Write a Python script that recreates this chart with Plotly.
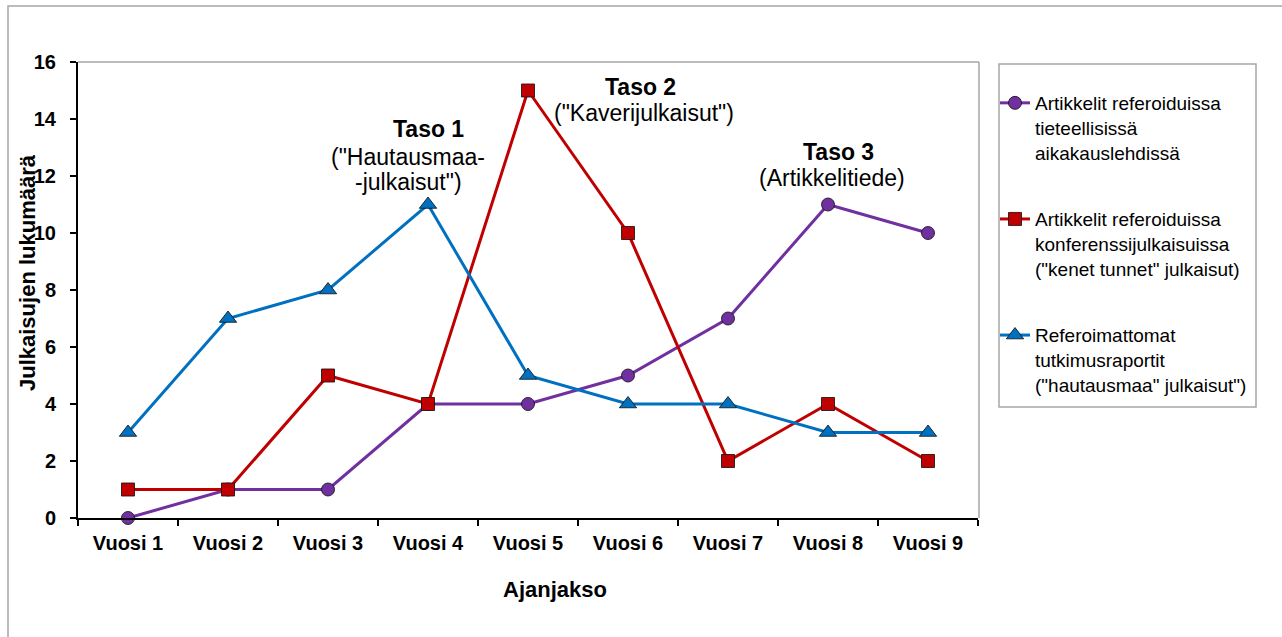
import plotly.graph_objects as go

W, H = 1282, 637

categories = ["Vuosi 1", "Vuosi 2", "Vuosi 3", "Vuosi 4", "Vuosi 5",
              "Vuosi 6", "Vuosi 7", "Vuosi 8", "Vuosi 9"]
artikkelit_lehdet = [0, 1, 1, 4, 4, 5, 7, 11, 10]
artikkelit_konferenssi = [1, 1, 5, 4, 15, 10, 2, 4, 2]
referoimattomat = [3, 7, 8, 11, 5, 4, 4, 3, 3]

names = [
    "Artikkelit referoiduissa<br>tieteellisissä<br>aikakauslehdissä",
    "Artikkelit referoiduissa<br>konferenssijulkaisuissa<br>(\"kenet tunnet\" julkaisut)",
    "Referoimattomat<br>tutkimusraportit<br>(\"hautausmaa\" julkaisut\")",
]
series = [artikkelit_lehdet, artikkelit_konferenssi, referoimattomat]
colors = ["#7030A0", "#C00000", "#0070C0"]
symbols = ["circle", "square", "triangle-up"]
msizes = [13, 13, 15]

FONT = "Liberation Sans, Arial, sans-serif"

def px(x):
    return x / W

def py(y):
    return 1 - y / H

fig = go.Figure()
for i, (vals, nm, c, sym, ms) in enumerate(zip(series, names, colors, symbols, msizes)):
    fig.add_trace(go.Scatter(
        x=categories, y=vals, name=nm, mode="lines+markers",
        line=dict(color=c, width=3),
        marker=dict(symbol=sym, size=ms, color=c,
                    line=dict(color="rgba(20,20,20,0.85)", width=1)),
        legendgroup=f"g{i}",
        cliponaxis=False,
    ))

x0, x1 = 78, 978
y0, y1 = 62, 518

shapes = [
    # outer chart border
    dict(type="rect", xref="paper", yref="paper",
         x0=px(8), x1=px(W + 20), y0=py(6), y1=py(H + 20),
         line=dict(color="#A6A6A6", width=1.5), layer="below"),
    # plot area top and right border
    dict(type="line", xref="paper", yref="paper",
         x0=px(x0), x1=px(x1 + 1), y0=py(y0), y1=py(y0),
         line=dict(color="#A6A6A6", width=1.5), layer="below"),
    dict(type="line", xref="paper", yref="paper",
         x0=px(x1 + 1), x1=px(x1 + 1), y0=py(y0), y1=py(y1),
         line=dict(color="#A6A6A6", width=1.5), layer="below"),
    # legend box
    dict(type="rect", xref="paper", yref="paper",
         x0=px(999), x1=px(1256), y0=py(64), y1=py(407),
         line=dict(color="#A6A6A6", width=1.5), layer="below"),
]

def ann(text, x, y, size, bold=False):
    return dict(text=f"<b>{text}</b>" if bold else text,
                x=px(x), y=py(y), xref="paper", yref="paper",
                xanchor="center", yanchor="middle", showarrow=False,
                font=dict(family=FONT, size=size, color="#000000"))

annotations = [
    ann("Taso 1", 428, 129, 23, True),
    ann("(\"Hautausmaa-", 408, 157, 23),
    ann("-julkaisut\")", 408, 182, 23),
    ann("Taso 2", 640, 87, 23, True),
    ann("(\"Kaverijulkaisut\")", 644, 113, 23),
    ann("Taso 3", 838, 152, 23, True),
    ann("(Artikkelitiede)", 832, 178, 23),
    ann("Ajanjakso", 555, 589, 22, True),
]
yt = ann("Julkaisujen lukumäärä", 27, 273, 22, True)
yt["textangle"] = -90
annotations.append(yt)

fig.update_layout(
    width=W, height=H,
    margin=dict(l=0, r=0, t=0, b=0, pad=0, autoexpand=False),
    paper_bgcolor="white", plot_bgcolor="white",
    font=dict(family=FONT, color="#000000"),
    showlegend=True,
    legend=dict(
        x=px(995), y=py(84), xanchor="left", yanchor="top",
        bgcolor="rgba(0,0,0,0)", borderwidth=0,
        font=dict(family=FONT, size=19, color="#000000"),
        traceorder="grouped", tracegroupgap=39, valign="top",
        itemwidth=30,
    ),
    xaxis=dict(
        domain=[px(x0), px(x1)], type="category",
        categoryorder="array", categoryarray=categories,
        range=[-0.5, 8.5], tickson="boundaries",
        showline=True, linecolor="#000000", linewidth=2,
        ticks="outside", ticklen=6, tickwidth=2, tickcolor="#000000",
        showgrid=False, zeroline=False, automargin=False,
        tickfont=dict(family=FONT, size=20, color="#000000", weight="bold"),
        ticklabelstandoff=6, fixedrange=True,
    ),
    yaxis=dict(
        domain=[py(y1), py(y0)], range=[0, 16], dtick=2,
        showline=True, linecolor="#000000", linewidth=2,
        ticks="outside", ticklen=6, tickwidth=2, tickcolor="#000000",
        showgrid=False, zeroline=False, automargin=False,
        tickfont=dict(family=FONT, size=20, color="#000000", weight="bold"),
        ticklabelstandoff=10, fixedrange=True,
    ),
    shapes=shapes,
    annotations=annotations,
)

fig.write_html("out.html")
